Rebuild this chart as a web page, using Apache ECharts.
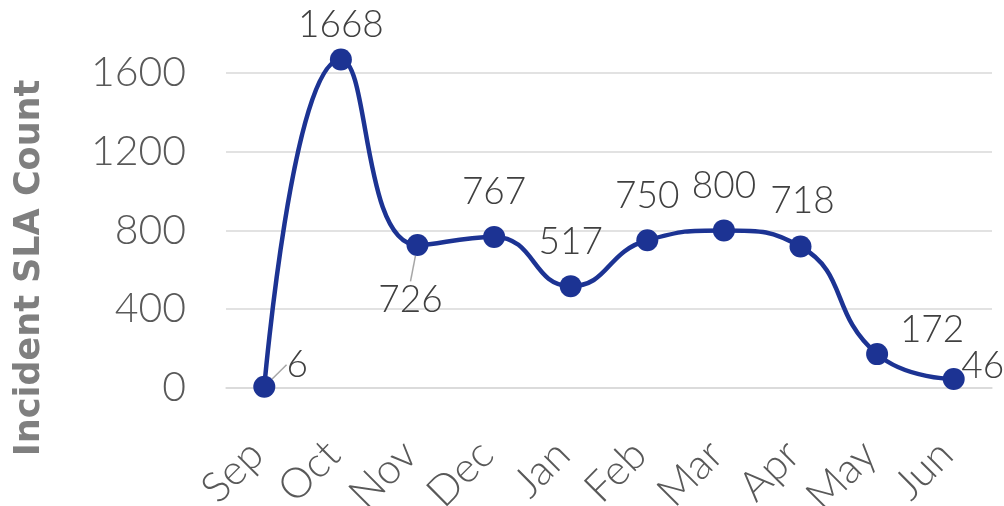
<!DOCTYPE html>
<html>
<head>
<meta charset="utf-8">
<script src="https://cdn.jsdelivr.net/npm/echarts@6/dist/echarts.min.js"></script>
<style>
html,body{margin:0;padding:0;background:#fff;}
#c{width:1004px;height:506px;}
</style>
</head>
<body>
<div id="c"></div>
<script>
var categories = ['Sep','Oct','Nov','Dec','Jan','Feb','Mar','Apr','May','Jun'];
var values = [6, 1668, 726, 767, 517, 750, 800, 718, 172, 46];
var yTicks = [0, 400, 800, 1200, 1600];
var axisTitle = 'Incident SLA Count';

// label displacement (styling only)
var labelMoves = [[33,-22],[0,-34],[-7,55],[0,-45],[0,-44],[0,-44],[0,-44],[2,-45],[55,-24],[29,-13]];
var leaderIdx = [0, 2];

var FONT = 'Lato';
var chart = echarts.init(document.getElementById('c'), null, {renderer:'canvas'});
var data = values.map(function(v,i){
  return {value:v, labelLine:{show: leaderIdx.indexOf(i) >= 0}};
});
chart.setOption({
  animation:false,
  grid:{left:226, right:12, top:-6, bottom:118, containLabel:false, outerBoundsMode:'none'},
  xAxis:{
    type:'category',
    data:categories,
    boundaryGap:true,
    axisLine:{show:true, lineStyle:{color:'#d9d9d9', width:1.5}},
    axisTick:{show:false},
    axisLabel:{rotate:45, margin:52, padding:[0,11,0,0], color:'#595959', fontFamily:FONT, fontWeight:300, fontSize:42, interval:0}
  },
  yAxis:{
    type:'value',
    min:0, max:2000, interval:400,
    axisLine:{show:false},
    axisTick:{show:false},
    axisLabel:{margin:40, color:'#595959', fontFamily:FONT, fontWeight:300, fontSize:41,
      formatter:function(v){ return yTicks.indexOf(v) >= 0 ? String(v) : ''; }},
    splitLine:{lineStyle:{color:'#d9d9d9', width:1.5}}
  },
  graphic:[{
    type:'text',
    x:30, y:268,
    rotation:Math.PI/2,
    style:{text:axisTitle, fill:'#7f7f7f', font:'bold 35px "DejaVu Sans"', align:'center', verticalAlign:'middle'}
  }],
  series:[{
    type:'line',
    data:data,
    smooth:0.5,
    symbol:'circle',
    symbolSize:22,
    clip:false,
    lineStyle:{color:'#1c3393', width:4.5},
    itemStyle:{color:'#1c3393'},
    label:{show:true, position:'inside', color:'#404040', fontFamily:FONT, fontWeight:300, fontSize:37},
    labelLine:{show:false, lineStyle:{color:'#a6a6a6', width:1.5}},
    labelLayout:function(p){
      var m = labelMoves[p.dataIndex];
      return {dx:m[0], dy:m[1]};
    }
  }]
});
</script>
</body>
</html>
